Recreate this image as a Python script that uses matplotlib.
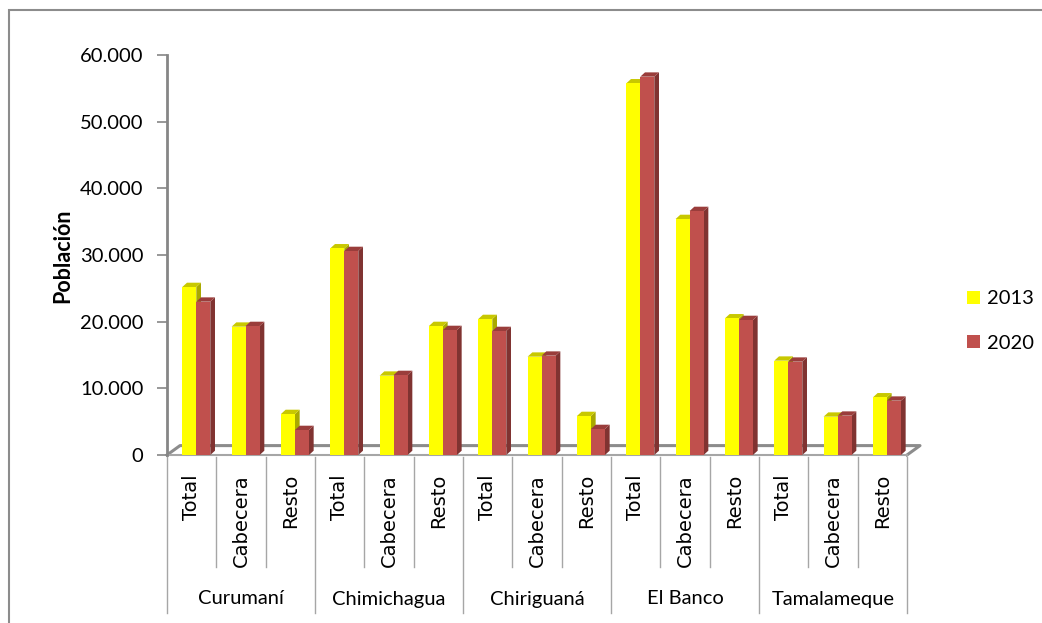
import matplotlib.pyplot as plt
from matplotlib.patches import Polygon, Rectangle, Patch

# Población por municipio, cabecera y resto
municipios = ['Curumaní', 'Chimichagua', 'Chiriguaná', 'El Banco', 'Tamalameque']
zonas = ['Total', 'Cabecera', 'Resto']
pob_2013 = [25200, 19250, 6150,
            31000, 11900, 19350,
            20400, 14750, 5850,
            55750, 35400, 20500,
            14150, 5750, 8650]
pob_2020 = [23000, 19350, 3750,
            30600, 12000, 18750,
            18600, 14900, 3900,
            56750, 36600, 20250,
            14000, 5900, 8150]
series = ['2013', '2020']

W, H = 1042, 623
FONT = ['Lato', 'DejaVu Sans']
plt.rcParams['font.family'] = FONT

fig = plt.figure(figsize=(W / 100, H / 100), dpi=100)
ax = fig.add_axes([167 / W, (H - 455) / H, 740 / W, 400 / H])
ax.set_xlim(0, 15)
ax.set_ylim(0, 60000)

# outer chart border (runs off the right and bottom edges)
fig.patches.append(Rectangle((9 / W, -0.1), 1.2, 1 - 10 / H + 0.1,
                             transform=fig.transFigure, fill=False,
                             edgecolor='#8c8c8c', lw=1.5))

slot = 740 / 15.0
px_x = 1.0 / slot          # one pixel in slot units
px_y = 60000 / 400.0       # one pixel in value units
bw = 14 * px_x
dx, dy = 4.7 * px_x, 4.3 * px_y

faces = {
    '2013': ('#ffff00', '#c8c800', '#a9a900'),
    '2020': ('#c0504d', '#9a3d3b', '#803331'),
}


def bar3d(x0, h, name):
    front, top, side = faces[name]
    ax.add_patch(Polygon([(x0 + bw, 0), (x0 + bw + dx, dy), (x0 + bw + dx, h + dy), (x0 + bw, h)],
                         closed=True, facecolor=side, edgecolor='none', zorder=3, clip_on=False))
    ax.add_patch(Polygon([(x0, h), (x0 + dx, h + dy), (x0 + bw + dx, h + dy), (x0 + bw, h)],
                         closed=True, facecolor=top, edgecolor='none', zorder=3, clip_on=False))
    ax.bar(x0, h, width=bw, align='edge', color=front, zorder=4, clip_on=False)


# floor of the 3D plot
fdx, fdy = 13 * px_x, 9.4 * px_y
ax.plot([0, fdx, 15 + fdx, 15], [0, fdy, fdy, 0], color='#8c8c8c', lw=2.2, zorder=1, clip_on=False)
ax.plot([0, 15], [0, 0], color='#a6a6a6', lw=1.5, zorder=1, clip_on=False)

for i in range(15):
    x0 = i + 0.31
    bar3d(x0, pob_2013[i], '2013')
    bar3d(x0 + bw, pob_2020[i], '2020')

# value axis
for s in ['top', 'right', 'bottom']:
    ax.spines[s].set_visible(False)
ax.spines['left'].set_color('#868686')
ax.spines['left'].set_linewidth(2)
ax.set_yticks(range(0, 60001, 10000))
ax.set_yticklabels([f'{v:,}'.replace(',', '.') for v in range(0, 60001, 10000)], fontsize=14.5)
ax.tick_params(axis='y', length=7, width=1.2, color='#868686', pad=10)
ax.set_xticks([])
ax.patch.set_alpha(0)

fig.text(63 / W, 1 - 256 / H, 'Población', rotation=90, ha='center', va='center',
         fontsize=15.5, fontweight='bold')

# two-level category labels under the floor
tr = ax.get_xaxis_transform()


def ay(py):
    return (455 - py) / 400.0


for i in range(16):
    bottom = 613 if i % 3 == 0 else 567
    ax.plot([i, i], [ay(457), ay(bottom)], transform=tr, color='#a6a6a6', lw=1, clip_on=False)
for i in range(15):
    ax.text(i + 0.5, ay(474), zonas[i % 3], transform=tr, rotation=90, ha='center', va='top',
            fontsize=14, fontfamily='DejaVu Sans')
for g, name in enumerate(municipios):
    ax.text(g * 3 + 1.5, ay(599), name, transform=tr, ha='center', va='center', fontsize=14.5)

handles = [Patch(facecolor=faces[s][0], edgecolor='none') for s in series]
fig.legend(handles, series, loc='center left', bbox_to_anchor=(967 / W, 1 - 321 / H),
           frameon=False, fontsize=14.5, handlelength=0.65, handleheight=0.65,
           handletextpad=0.35, labelspacing=1.35, borderpad=0, borderaxespad=0)

fig.savefig('out.png', dpi=100)
